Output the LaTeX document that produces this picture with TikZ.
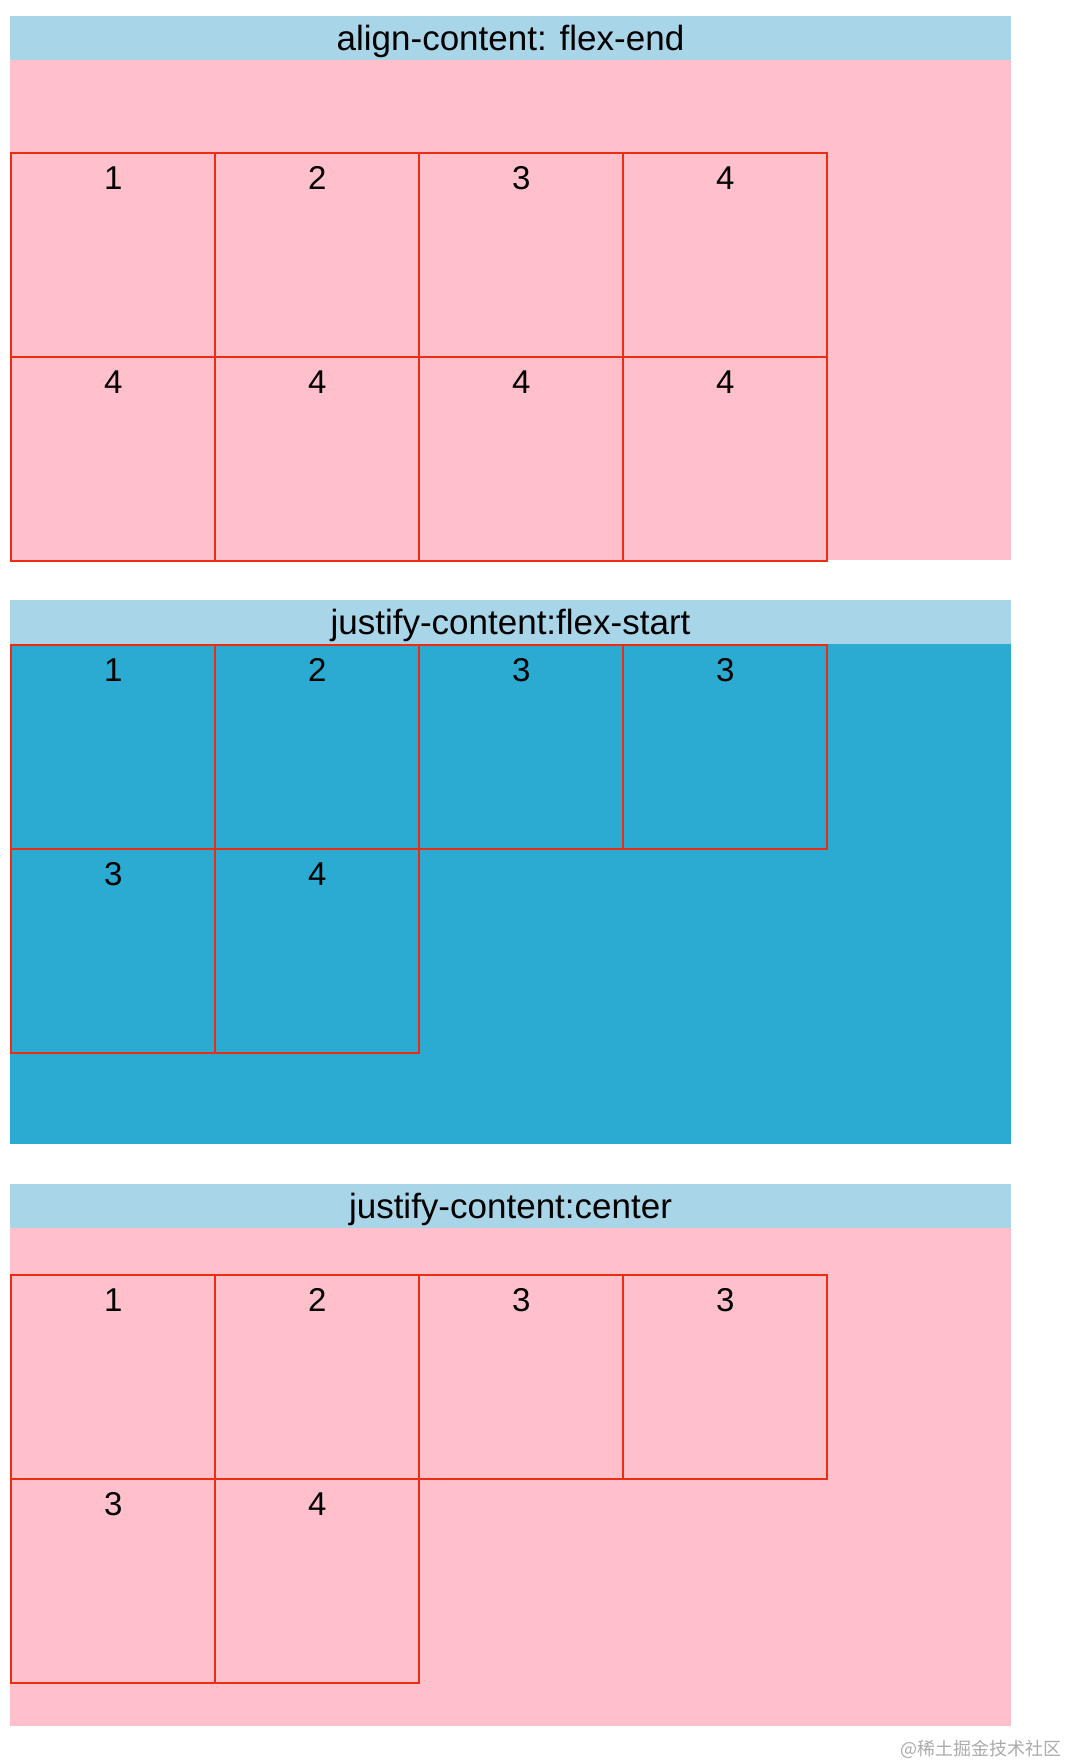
\documentclass[tikz,border=0pt]{standalone}
\usepackage{fontspec}
\setmainfont{Liberation Sans}
\newfontfamily\cjkfont{Noto Sans CJK SC}
\usetikzlibrary{positioning}
\definecolor{headblue}{HTML}{A9D5E9}
\definecolor{boxpink}{HTML}{FFC0CB}
\definecolor{flexblue}{HTML}{2BAAD2}
\definecolor{cellred}{HTML}{EC2D12}
\definecolor{markgrey}{HTML}{ABABAB}

\tikzset{
  title/.style={anchor=base,inner sep=0pt,font=\fontsize{35}{38}\selectfont},
  cell/.style={draw=cellred,line width=2.4pt,anchor=north west,inner sep=0pt,
               minimum width=204pt,minimum height=204pt,
               text height=36pt,text depth=168pt,font=\fontsize{33}{36}\selectfont},
}

\begin{document}
\begin{tikzpicture}[x=1pt,y=-1pt]
  \useasboundingbox (0,0) rectangle (1066,1762);
  \fill[white] (0,0) rectangle (1066,1762);

  % Panel 1: align-content flex-end
  \fill[boxpink] (10,60) rectangle (1011,560);
  \fill[headblue] (10,16) rectangle (1011,60);
  \node[title] (t1) at (510.5,50) {align-content: flex-end};
  \node[cell] (a1) at (10,152) {1};
  \node[cell] (a2) at (214,152) {2};
  \node[cell] (a3) at (418,152) {3};
  \node[cell] (a4) at (622,152) {4};
  \node[cell] (a5) at (10,356) {4};
  \node[cell] (a6) at (214,356) {4};
  \node[cell] (a7) at (418,356) {4};
  \node[cell] (a8) at (622,356) {4};

  % Panel 2: justify-content flex-start
  \fill[flexblue] (10,644) rectangle (1011,1144);
  \fill[headblue] (10,600) rectangle (1011,644);
  \node[title] (t2) at (510.5,634) {justify-content:flex-start};
  \node[cell] (b1) at (10,644) {1};
  \node[cell] (b2) at (214,644) {2};
  \node[cell] (b3) at (418,644) {3};
  \node[cell] (b4) at (622,644) {3};
  \node[cell] (b5) at (10,848) {3};
  \node[cell] (b6) at (214,848) {4};

  % Panel 3: justify-content center
  \fill[boxpink] (10,1228) rectangle (1011,1726);
  \fill[headblue] (10,1184) rectangle (1011,1228);
  \node[title] (t3) at (510.5,1218) {justify-content:center};
  \node[cell] (c1) at (10,1274) {1};
  \node[cell] (c2) at (214,1274) {2};
  \node[cell] (c3) at (418,1274) {3};
  \node[cell] (c4) at (622,1274) {3};
  \node[cell] (c5) at (10,1478) {3};
  \node[cell] (c6) at (214,1478) {4};

  % Watermark
  \node[anchor=base east,inner sep=0pt,text=markgrey,font=\cjkfont\fontsize{18}{18}\selectfont]
    (mark) at (1062,1755) {@稀土掘金技术社区};
\end{tikzpicture}
\end{document}
